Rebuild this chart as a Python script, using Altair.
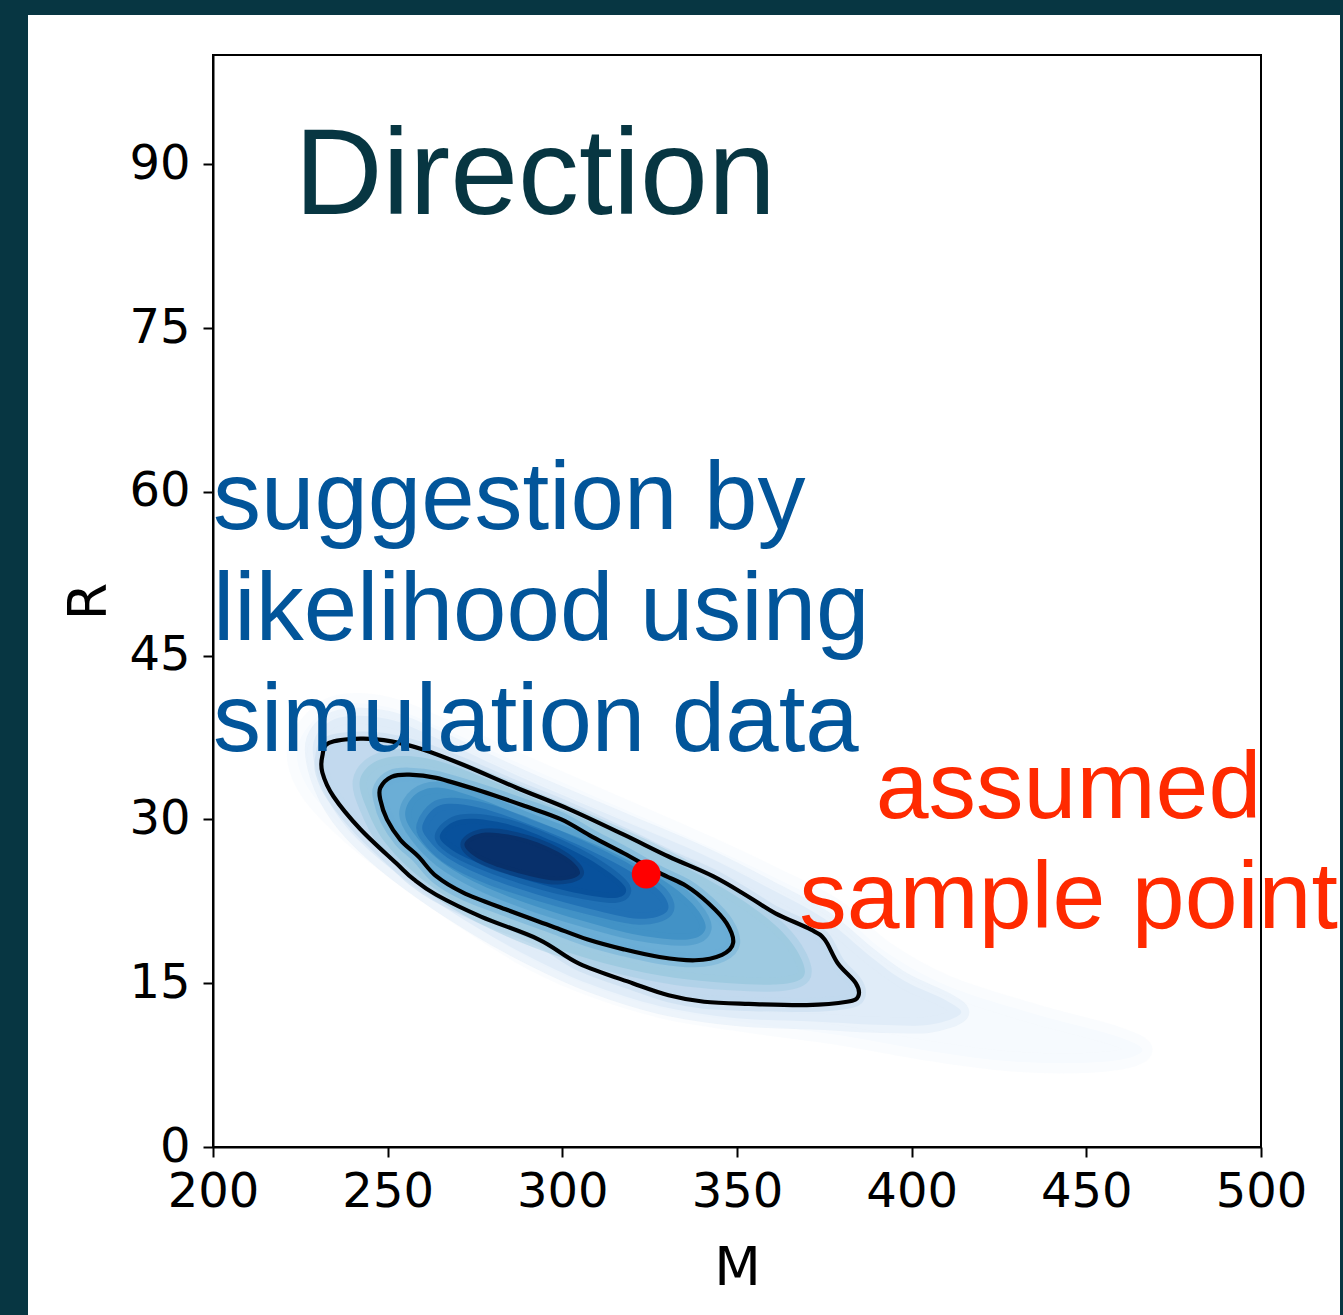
import altair as alt
import pandas as pd

# ---------------- data ----------------
X_DOMAIN = [200, 500]
Y_DOMAIN = [0, 100]
X_TICKS = [200, 250, 300, 350, 400, 450, 500]
Y_TICKS = [0, 15, 30, 45, 60, 75, 90]

# outer black contour (M, R)
OUTER_M = [231.3, 233.2, 242.2, 251.1, 260.1, 271.6, 286.9, 302.2, 317.6, 330.4, 343.1, 353.4,
           361.0, 371.2, 375.1, 378.9, 384.0, 384.7, 381.5, 370.0, 353.4, 340.6, 330.4, 320.1,
           304.8, 293.3, 276.7, 263.9, 257.5, 252.4, 242.2, 234.5, 231.3]
OUTER_R = [35.8, 37.0, 37.4, 37.15, 36.4, 35.0, 32.9, 30.9, 28.6, 26.6, 24.8, 22.9,
           21.4, 19.9, 19.0, 16.8, 15.0, 13.8, 13.3, 13.0, 13.1, 13.3, 13.9, 15.0,
           16.8, 19.0, 21.1, 23.1, 24.5, 26.0, 29.1, 32.1, 34.3]

# inner black contour (M, R)
INNER_M = [247.9, 251.1, 256.2, 263.9, 276.7, 289.5, 299.7, 308.6, 317.6, 327.8, 335.5, 341.9,
           347.0, 348.9, 345.7, 338.0, 327.8, 317.6, 307.3, 297.1, 284.3, 271.6, 263.9, 258.8,
           253.7, 249.8, 247.9]
INNER_R = [32.9, 33.9, 34.1, 33.8, 32.6, 31.2, 30.0, 28.4, 26.9, 25.1, 23.9, 22.3,
           20.5, 18.7, 17.6, 17.1, 17.4, 18.1, 19.0, 20.2, 21.7, 23.3, 24.8, 26.6,
           28.1, 30.0, 31.8]

# density shading bands, outer to inner (read as iso-shade outlines)
HALO1_M = [224, 228, 236, 250, 266, 290, 315, 340, 360, 378, 392, 410, 435, 458, 466, 455,
           430, 405, 380, 355, 330, 310, 292, 274, 256, 240, 228]
HALO1_R = [36, 38.8, 40.5, 40.3, 38.3, 34.8, 31.3, 27.8, 24.8, 21.8, 18, 14.8, 12.2, 10.2, 8.8, 7.8,
           7.8, 8.8, 10.2, 11.3, 12.6, 14.5, 17, 20.5, 24.5, 28.5, 32.5]
HALO2_M = [229, 236, 250, 265, 290, 318, 340, 358, 375, 388, 398, 410, 414, 405, 390, 372,
           350, 328, 308, 292, 276, 260, 246, 236, 230]
HALO2_R = [37.3, 39.3, 39.2, 37.3, 33.6, 29.8, 26.8, 23.9, 20.9, 17.5, 15.2, 13.4, 12.2, 11.2, 11.2, 11.5,
           11.8, 12.9, 14.9, 17.2, 20, 23.3, 26.8, 30.2, 34]
BAND_D_M = [242, 246, 254, 265, 280, 295, 310, 325, 340, 352, 362, 368, 369, 362, 348, 332,
            316, 300, 284, 270, 258, 249, 244]
BAND_D_R = [33.5, 35.2, 35.8, 35.3, 33.5, 31.5, 29.5, 27.3, 24.8, 22.5, 20, 17.5, 15.6, 14.9, 15.0, 15.5,
            16.5, 18, 20, 22.3, 25, 28, 31]
BAND_F_M = [255, 258, 265, 277, 290, 305, 318, 330, 338, 341, 336, 322, 306, 290, 276, 265, 258]
BAND_F_R = [30.5, 32.3, 32.9, 31.8, 30.1, 28.3, 26.4, 24.2, 22, 20, 19.0, 19.4, 20.7, 22.3, 24.1, 26.2, 28.5]
BAND_G_M = [260, 265, 276, 290, 305, 318, 328, 330, 322, 308, 293, 279, 268, 262]
BAND_G_R = [29.5, 31.3, 31.1, 29.6, 27.6, 25.5, 23.4, 21.6, 20.9, 21.8, 23.1, 24.6, 26.3, 28]
BAND_H_M = [265, 271, 284, 298, 310, 318, 315, 302, 288, 276, 268]
BAND_H_R = [28.6, 30.0, 29.6, 27.9, 25.9, 23.8, 22.8, 23.4, 24.6, 26.0, 27.3]
BAND_I_M = [272, 278, 290, 301, 305, 298, 286, 276]
BAND_I_R = [27.8, 28.8, 28.2, 26.6, 25.0, 24.4, 25.2, 26.4]

BAND_COLORS = ["#f6fafe", "#e0ecf8", "#c2d9ee", "#9ecae1", "#6baed6",
               "#4292c6", "#2171b5", "#08519c", "#08306b"]

SAMPLE_M = [324]
SAMPLE_R = [25]

TITLE_TEXT = ["Direction"]
TITLE_M = [223.3]
TITLE_R = [85.4]

SUGGEST_LINES = ["suggestion by", "likelihood using", "simulation data"]
SUGGEST_M = [200.0]
SUGGEST_R = [56.55]

ASSUMED_LINES = ["assumed", "sample point"]
ASSUMED_M = [444.9]
ASSUMED_R = [30.16]

# ---------------- chart ----------------
DARK = "#073642"
W, H = 1048, 1092

x_enc = alt.X("M:Q", scale=alt.Scale(domain=X_DOMAIN, nice=False, zero=False),
              axis=alt.Axis(values=X_TICKS, format="d", title="M"))
y_enc = alt.Y("R:Q", scale=alt.Scale(domain=Y_DOMAIN, nice=False, zero=False),
              axis=alt.Axis(values=Y_TICKS, format="d", title="R"))


def band(M, R, color, soft_w, soft_op):
    df = pd.DataFrame({"M": M, "R": R, "i": list(range(len(M)))})
    return alt.Chart(df).mark_line(
        interpolate="cardinal-closed", fill=color, stroke=color,
        strokeWidth=soft_w, strokeOpacity=soft_op, fillOpacity=1,
    ).encode(x=x_enc, y=y_enc, order=alt.Order("i:Q"))


def contour(M, R):
    df = pd.DataFrame({"M": M, "R": R, "i": list(range(len(M)))})
    return alt.Chart(df).mark_line(
        interpolate="cardinal-closed", stroke="#000000", strokeOpacity=1,
    ).encode(x=x_enc, y=y_enc, order=alt.Order("i:Q"),
             strokeWidth=alt.value(4.2))


bands = [
    (HALO1_M, HALO1_R, BAND_COLORS[0], 20, 0.5),
    (HALO2_M, HALO2_R, BAND_COLORS[1], 16, 0.5),
    (OUTER_M, OUTER_R, BAND_COLORS[2], 14, 0.45),
    (BAND_D_M, BAND_D_R, BAND_COLORS[3], 14, 0.45),
    (INNER_M, INNER_R, BAND_COLORS[4], 14, 0.45),
    (BAND_F_M, BAND_F_R, BAND_COLORS[5], 12, 0.45),
    (BAND_G_M, BAND_G_R, BAND_COLORS[6], 12, 0.45),
    (BAND_H_M, BAND_H_R, BAND_COLORS[7], 10, 0.45),
    (BAND_I_M, BAND_I_R, BAND_COLORS[8], 8, 0.45),
]
layers = [band(*b) for b in bands]
layers.append(contour(OUTER_M, OUTER_R))
layers.append(contour(INNER_M, INNER_R))

layers.append(
    alt.Chart(pd.DataFrame({"M": SAMPLE_M, "R": SAMPLE_R})).mark_circle(
        color="#ff0000", size=830, opacity=1
    ).encode(x=x_enc, y=y_enc)
)

layers.append(
    alt.Chart(pd.DataFrame({"M": TITLE_M, "R": TITLE_R, "t": TITLE_TEXT})).mark_text(
        font="Liberation Sans", fontSize=122, color=DARK, align="left", baseline="alphabetic"
    ).encode(x=x_enc, y=y_enc, text="t:N")
)
layers.append(
    alt.Chart(pd.DataFrame({"M": SUGGEST_M, "R": SUGGEST_R})).mark_text(
        text=SUGGEST_LINES, font="Liberation Sans", fontSize=96, lineHeight=111,
        color="#02559a", align="left", baseline="alphabetic"
    ).encode(x=x_enc, y=y_enc)
)
layers.append(
    alt.Chart(pd.DataFrame({"M": ASSUMED_M, "R": ASSUMED_R})).mark_text(
        text=ASSUMED_LINES, font="Liberation Sans", fontSize=95, lineHeight=110,
        color="#ff2a00", align="center", baseline="alphabetic"
    ).encode(x=x_enc, y=y_enc)
)

# dark page frame strips (decoration outside the plot)
frame_df = pd.DataFrame({"k": [0]})
for x0, x1, y0, y1 in [(-213, -185, -55, 1260), (-213, 1130, -55, -40), (1127, 1130, -55, 1260)]:
    layers.append(
        alt.Chart(frame_df).mark_rect(color=DARK).encode(
            x=alt.value(x0), x2=alt.value(x1), y=alt.value(y0), y2=alt.value(y1)
        )
    )

chart = (
    alt.layer(*layers)
    .properties(
        width=W, height=H,
        autosize=alt.AutoSizeParams(type="none"),
        padding={"left": 213, "top": 55, "right": 82, "bottom": 168},
        background="white",
    )
    .configure_view(stroke="black", strokeWidth=2)
    .configure_axis(
        grid=False, labelFont="DejaVu Sans", labelFontSize=48, labelColor="black",
        titleFont="DejaVu Sans", titleFontSize=54, titleFontWeight="normal", titleColor="black",
        tickColor="black", tickWidth=2, tickSize=10, domainColor="black", domainWidth=2,
        labelFlush=False, labelOverlap=False,
    )
    .configure_axisX(labelPadding=11, titlePadding=25)
    .configure_axisY(labelPadding=13, titlePadding=12)
)

chart.save("out.html", embed_options={"renderer": "svg", "actions": False})
